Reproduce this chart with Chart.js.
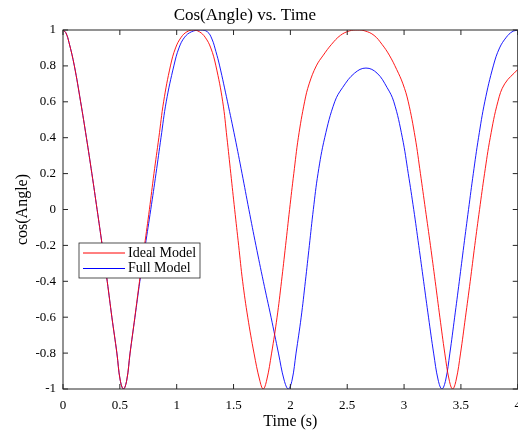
<!DOCTYPE html>
<html>
<head>
<meta charset="utf-8">
<script src="https://cdn.jsdelivr.net/npm/chart.js@4.4.1/dist/chart.umd.min.js"></script>
<style>
  html, body { margin: 0; padding: 0; overflow: hidden; background: #fff; }
  #wrap { width: 530px; height: 431px; position: relative; }
</style>
</head>
<body>
<div id="wrap"><canvas id="line-chart"></canvas></div>
<script>
var chartTitle = 'Cos(Angle) vs. Time';
var xTicks = [0, 0.5, 1, 1.5, 2, 2.5, 3, 3.5, 4];
var yTicks = [-1, -0.8, -0.6, -0.4, -0.2, 0, 0.2, 0.4, 0.6, 0.8, 1];

var timeIdeal = [0, 0.025, 0.053, 0.1, 0.155, 0.206, 0.254, 0.3, 0.345, 0.389, 0.43, 0.474, 0.503, 0.532,
  0.561, 0.59, 0.632, 0.673, 0.717, 0.76, 0.8, 0.843, 0.885, 0.945, 0.99, 1.04, 1.09, 1.147,
  1.2, 1.25, 1.30, 1.345, 1.405, 1.442, 1.476, 1.51, 1.545, 1.58, 1.625, 1.68, 1.73, 1.761,
  1.792, 1.835, 1.883, 1.922, 1.958, 1.993, 2.03, 2.07, 2.125, 2.165, 2.228, 2.29, 2.362, 2.44, 2.52, 2.588,
  2.656, 2.736, 2.806, 2.87, 2.935, 2.99, 3.037, 3.098, 3.144, 3.188,
  3.232, 3.274, 3.315, 3.358, 3.397, 3.427,
  3.458, 3.497, 3.54, 3.582, 3.622, 3.664, 3.708, 3.758, 3.825, 3.885, 4.0];
var cosIdeal = [1, 0.985, 0.93, 0.8, 0.6, 0.4, 0.2, 0, -0.2, -0.4, -0.6, -0.8, -0.95, -1,
  -0.95, -0.8, -0.6, -0.4, -0.2, 0, 0.2, 0.4, 0.6, 0.8, 0.9, 0.96, 0.99, 1,
  0.99, 0.96, 0.9, 0.8, 0.6, 0.4, 0.2, 0, -0.2, -0.4, -0.6, -0.8, -0.95, -1,
  -0.95, -0.8, -0.6, -0.4, -0.2, 0, 0.2, 0.4, 0.6, 0.7, 0.8, 0.86, 0.92, 0.97, 0.995, 1,
  0.995, 0.97, 0.92, 0.86, 0.78, 0.7, 0.6, 0.4, 0.2, 0,
  -0.2, -0.4, -0.6, -0.8, -0.95, -1,
  -0.95, -0.8, -0.6, -0.4, -0.2, 0, 0.2, 0.4, 0.6, 0.7, 0.78];

var timeFull = [0, 0.025, 0.053, 0.1, 0.155, 0.206, 0.254, 0.3, 0.345, 0.389, 0.43, 0.474, 0.503, 0.532,
  0.561, 0.59, 0.633, 0.676, 0.724, 0.772, 0.818, 0.862, 0.908, 0.975, 1.02, 1.07, 1.13, 1.21,
  1.27, 1.31, 1.345, 1.378, 1.447, 1.513, 1.575, 1.635, 1.697, 1.762, 1.83, 1.895, 1.945, 1.982,
  2.015, 2.05, 2.095, 2.132, 2.167, 2.202, 2.243, 2.302, 2.39, 2.46, 2.565, 2.665,
  2.762, 2.85, 2.91, 2.985, 3.037, 3.085, 3.129, 3.172, 3.215, 3.26, 3.3, 3.333,
  3.366, 3.403, 3.445, 3.486, 3.526, 3.567, 3.609, 3.655, 3.71, 3.785, 3.84, 3.9, 3.95, 4.0];
var cosFull = [1, 0.985, 0.93, 0.8, 0.6, 0.4, 0.2, 0, -0.2, -0.4, -0.6, -0.8, -0.95, -1,
  -0.95, -0.8, -0.6, -0.4, -0.2, 0, 0.2, 0.4, 0.6, 0.8, 0.9, 0.96, 0.99, 1,
  0.99, 0.95, 0.88, 0.8, 0.6, 0.4, 0.2, 0, -0.2, -0.4, -0.6, -0.8, -0.95, -1,
  -0.95, -0.8, -0.6, -0.4, -0.2, 0, 0.2, 0.4, 0.6, 0.68, 0.76, 0.788,
  0.76, 0.68, 0.6, 0.4, 0.2, 0, -0.2, -0.4, -0.6, -0.8, -0.95, -1,
  -0.95, -0.8, -0.6, -0.4, -0.2, 0, 0.2, 0.4, 0.6, 0.8, 0.9, 0.96, 0.99, 1];

var serif = "'Liberation Serif', 'Times New Roman', serif";
var axisColor = '#262626';

function toPoints(xs, ys) {
  return xs.map(function (x, i) { return { x: x, y: ys[i] }; });
}

// box, inward ticks, legend and title, MATLAB style
var matlabLook = {
  id: 'matlabLook',
  afterDatasetsDraw: function (chart) {
    var ctx = chart.ctx, a = chart.chartArea;
    var sx = chart.scales.x, sy = chart.scales.y;
    ctx.save();
    ctx.strokeStyle = axisColor;
    ctx.lineWidth = 1;
    ctx.strokeRect(a.left, a.top, a.right - a.left, a.bottom - a.top);
    ctx.beginPath();
    xTicks.forEach(function (v) {
      var px = sx.getPixelForValue(v);
      ctx.moveTo(px, a.bottom); ctx.lineTo(px, a.bottom - 5);
      ctx.moveTo(px, a.top); ctx.lineTo(px, a.top + 5);
    });
    yTicks.forEach(function (v) {
      var py = sy.getPixelForValue(v);
      ctx.moveTo(a.left, py); ctx.lineTo(a.left + 5, py);
      ctx.moveTo(a.right, py); ctx.lineTo(a.right - 5, py);
    });
    ctx.stroke();

    // legend box
    var lx = a.left + 16, ly = a.top + 213, lw = 121, lh = 35;
    ctx.fillStyle = '#fff';
    ctx.fillRect(lx, ly, lw, lh);
    ctx.strokeStyle = axisColor;
    ctx.lineWidth = 0.8;
    ctx.strokeRect(lx, ly, lw, lh);
    ctx.font = '14px ' + serif;
    ctx.textBaseline = 'middle';
    ctx.textAlign = 'left';
    chart.data.datasets.forEach(function (ds, i) {
      var y = ly + 10 + i * 15.5;
      ctx.strokeStyle = ds.borderColor;
      ctx.lineWidth = 1;
      ctx.beginPath();
      ctx.moveTo(lx + 4, y); ctx.lineTo(lx + 46, y);
      ctx.stroke();
      ctx.fillStyle = '#000';
      ctx.fillText(ds.label, lx + 49, y);
    });

    // title
    ctx.font = '17px ' + serif;
    ctx.textAlign = 'center';
    ctx.textBaseline = 'middle';
    ctx.fillStyle = '#000';
    ctx.fillText(chartTitle, sx.getPixelForValue(1.6), 16);
    ctx.restore();
  }
};

var ctx = document.getElementById('line-chart').getContext('2d');

var lineChart = new Chart(ctx, {
  type: 'line',
  data: {
    datasets: [{
      label: 'Ideal Model',
      data: toPoints(timeIdeal, cosIdeal),
      borderColor: '#ff0000',
      borderWidth: 0.9,
      pointRadius: 0,
      tension: 0.4,
      fill: false
    }, {
      label: 'Full Model',
      data: toPoints(timeFull, cosFull),
      borderColor: '#0000ff',
      borderWidth: 0.9,
      pointRadius: 0,
      tension: 0.4,
      fill: false
    }]
  },
  options: {
    responsive: true,
    maintainAspectRatio: false,
    animation: false,
    events: [],
    layout: { padding: { top: 30, right: 11, left: 0, bottom: 0 } },
    plugins: {
      legend: { display: false },
      tooltip: { enabled: false },
      title: { display: false }
    },
    scales: {
      x: {
        type: 'linear',
        min: 0,
        max: 4,
        grid: { display: false, drawTicks: false, tickLength: 0 },
        border: { display: false },
        afterBuildTicks: function (scale) {
          scale.ticks = xTicks.map(function (v) { return { value: v }; });
        },
        afterFit: function (scale) { scale.height = 42; },
        ticks: {
          padding: 9,
          color: '#000',
          font: { family: serif, size: 13 },
          maxRotation: 0,
          callback: function (v) { return String(v); }
        },
        title: {
          display: true,
          text: 'Time (s)',
          color: '#000',
          font: { family: serif, size: 16 },
          padding: { top: 0, bottom: 0 }
        }
      },
      y: {
        min: -1,
        max: 1,
        grid: { display: false, drawTicks: false, tickLength: 0 },
        border: { display: false },
        afterBuildTicks: function (scale) {
          scale.ticks = yTicks.map(function (v) { return { value: v }; });
        },
        afterFit: function (scale) { scale.width = 63; },
        ticks: {
          padding: 7,
          color: '#000',
          font: { family: serif, size: 13 },
          callback: function (v) { return String(v); }
        },
        title: {
          display: true,
          text: 'cos(Angle)',
          color: '#000',
          font: { family: serif, size: 16 },
          padding: { top: 13, bottom: 0 }
        }
      }
    }
  },
  plugins: [matlabLook]
});
</script>
</body>
</html>
